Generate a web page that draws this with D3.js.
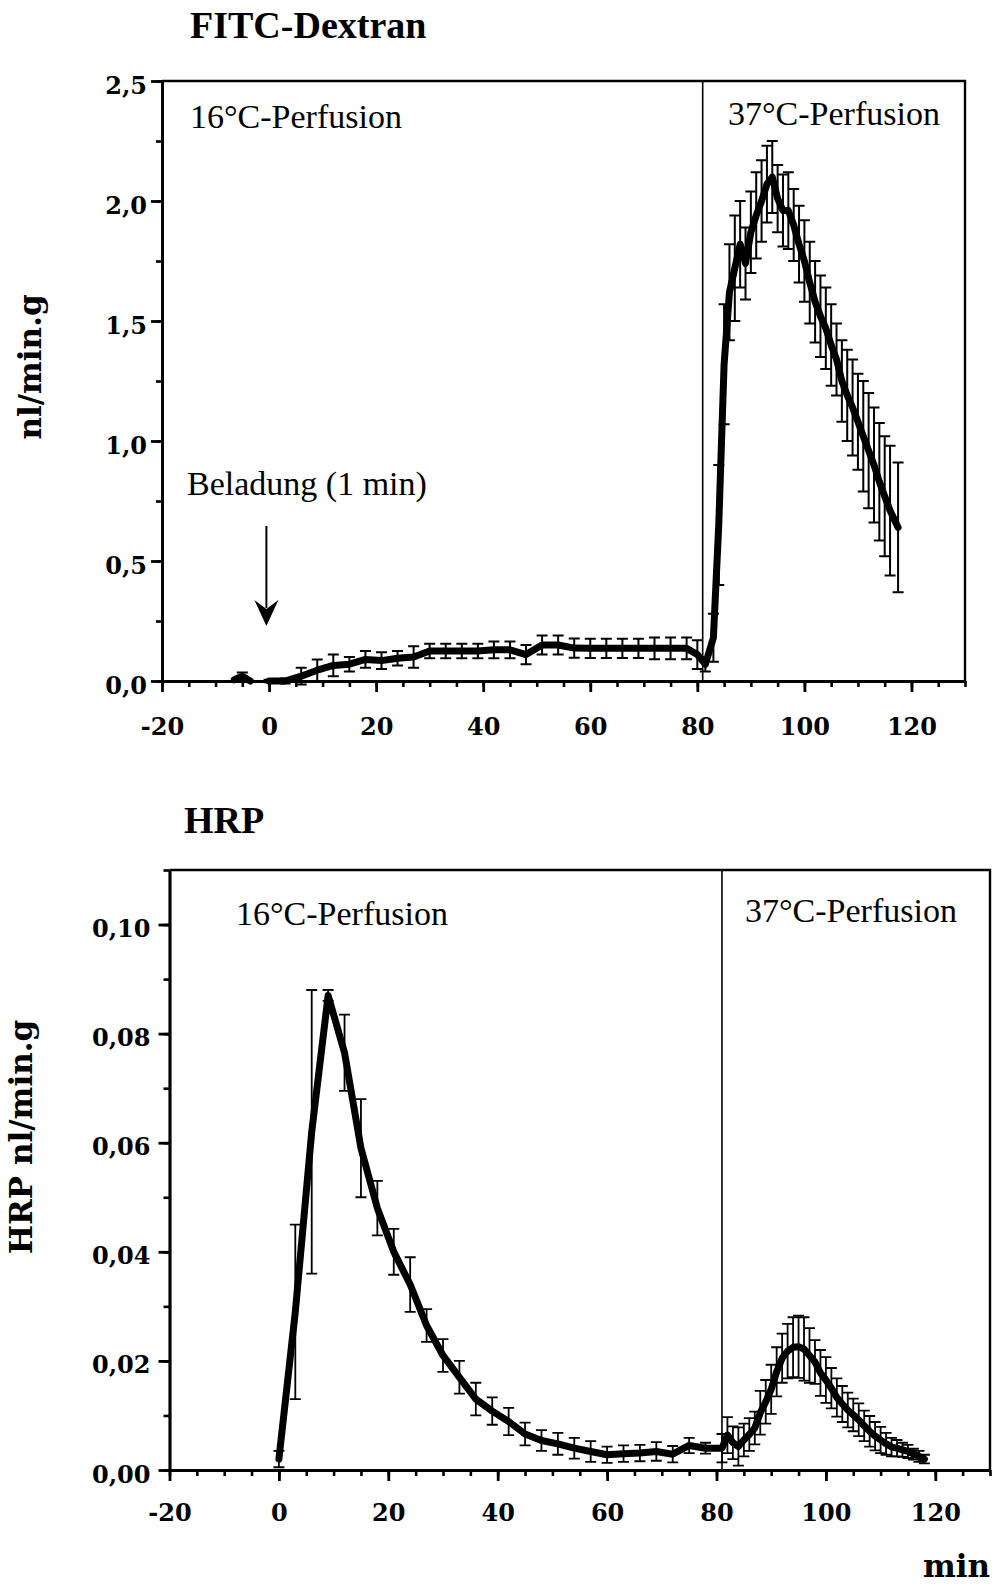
<!DOCTYPE html>
<html><head><meta charset="utf-8">
<script src="https://cdn.jsdelivr.net/npm/d3@7"></script>
<style>
body{margin:0;background:#fff;}
svg{display:block;}
</style></head><body>
<svg id="chart" width="994" height="1587"></svg>
<script>
// ---------- DATA ----------
// FITC-Dextran (null = gap in the curve)
const fitcTime = [-6.5,-5,-3.5,-2,
  0,3,6,9,12,15,18,21,24,27,
  30,33,36,39,42,45,48,51,54,57,
  60,63,66,69,72,75,78,
  80,81.5,83,84,
  85,86,87,88,89,90,91,92,93,94,
  95,96,97,98,99,100,101,102,103,104,
  105,106,107,108,109,110,111,112,113,114,
  115,116,117.5];
const fitcMean = [0.005,0.02,0.0,null,
  0.0,0.0,0.02,0.045,0.065,0.07,0.09,0.085,0.095,0.10,
  0.125,0.125,0.125,0.125,0.13,0.13,0.11,0.15,0.15,0.137,
  0.136,0.136,0.136,0.136,0.136,0.136,0.136,
  0.11,0.07,0.18,0.65,
  1.32,1.62,1.72,1.82,1.74,1.87,1.94,2.0,2.07,2.10,
  2.01,1.96,1.96,1.90,1.82,1.75,1.66,1.58,1.52,1.47,
  1.40,1.34,1.25,1.19,1.14,1.08,1.02,0.96,0.90,0.83,
  0.77,0.71,0.64];
const fitcErr = [0,0.015,0,null,
  0.005,0.01,0.035,0.045,0.045,0.03,0.035,0.035,0.03,0.045,
  0.03,0.03,0.03,0.03,0.035,0.035,0.04,0.04,0.04,0.04,
  0.04,0.04,0.04,0.04,0.045,0.045,0.045,
  0.06,0.03,0.1,0.25,
  0.25,0.2,0.22,0.18,0.15,0.17,0.18,0.17,0.16,0.15,
  0.14,0.15,0.16,0.15,0.16,0.17,0.17,0.17,0.17,0.17,
  0.17,0.15,0.17,0.19,0.2,0.2,0.23,0.24,0.24,0.245,
  0.25,0.27,0.27];

// HRP
const hrpTime = [0,3,6,9,12,15,18,21,24,27,
  30,33,36,39,42,45,48,51,54,57,
  60,63,66,69,72,75,78,81,
  82,83,84,85,86,87,88,89,90,91,
  92,93,94,95,96,97,98,99,100,101,
  102,103,104,105,106,107,108,109,110,111,
  112,113,114,115,116,117,118];
const hrpMean = [0.002,0.029,0.062,0.087,0.0765,0.059,0.048,0.040,0.034,0.0265,
  0.021,0.017,0.013,0.0108,0.0089,0.0066,0.0054,0.0048,0.004,0.0034,
  0.0028,0.003,0.0031,0.0034,0.0029,0.0045,0.004,0.004,
  0.0064,0.005,0.0043,0.0055,0.0065,0.0077,0.0105,0.0125,0.0148,0.018,
  0.0205,0.0218,0.0225,0.0226,0.0222,0.021,0.0198,0.0178,0.0165,0.015,
  0.0133,0.0121,0.011,0.0101,0.0092,0.0081,0.0071,0.0062,0.0055,0.0048,
  0.0042,0.004,0.0037,0.0034,0.0029,0.0025,0.002];
const hrpErr = [0.0015,0.016,0.026,0.001,0.007,0.009,0.005,0.0042,0.005,0.003,
  0.003,0.003,0.003,0.0025,0.0025,0.0021,0.0019,0.002,0.0019,0.0019,
  0.0015,0.0015,0.0015,0.0017,0.0015,0.0014,0.001,0.0026,
  0.0033,0.003,0.0035,0.003,0.003,0.003,0.004,0.004,0.0045,0.0045,
  0.0045,0.005,0.0055,0.0057,0.0058,0.005,0.004,0.0042,0.0042,0.0037,
  0.0035,0.0033,0.0032,0.003,0.003,0.0028,0.0028,0.0026,0.0024,0.002,
  0.0017,0.0015,0.0013,0.0012,0.001,0.001,0.0008];

const xTicks = [-20,0,20,40,60,80,100,120];
const xLabels = ["-20","0","20","40","60","80","100","120"];
const fitcYTicks = [0,0.5,1,1.5,2,2.5];
const fitcYLabels = ["0,0","0,5","1,0","1,5","2,0","2,5"];
const hrpYTicks = [0,0.02,0.04,0.06,0.08,0.10];
const hrpYLabels = ["0,00","0,02","0,04","0,06","0,08","0,10"];
const phaseSwitch = 81;
const loadingTime = -0.5;

// ---------- DRAW ----------
const svg = d3.select("#chart");
const TICKFONT = "'DejaVu Serif', serif";
const TITLEFONT = "'Liberation Serif', 'Times New Roman', serif";

function panel(o) {
  const g = svg.append("g");
  const x = d3.scaleLinear().domain([-20, 130]).range([o.x0, o.x1]);
  const y = d3.scaleLinear().domain([0, o.yMax]).range([o.y1, o.y0]);

  g.append("path")
    .attr("d", `M${x(-20)},${y(o.yMax)}H${x(130)}V${y(0)}`)
    .attr("fill", "none").attr("stroke", "#000").attr("stroke-width", 2.4);
  g.append("line")
    .attr("x1", x(phaseSwitch)).attr("x2", x(phaseSwitch))
    .attr("y1", y(o.yMax)).attr("y2", y(0))
    .attr("stroke", "#000").attr("stroke-width", 1.6);

  const xMinor = d3.range(-20, 131, 5);
  const yMinor = d3.range(0, o.yMax + o.yMinorStep / 2, o.yMinorStep);
  g.append("g").attr("transform", `translate(0,${y(0)})`)
    .call(d3.axisBottom(x).tickValues(xMinor).tickSize(6).tickSizeOuter(0).tickFormat(""))
    .call(s => s.selectAll("line,path").attr("stroke-width", 2.6));
  g.append("g").attr("transform", `translate(${x(-20)},0)`)
    .call(d3.axisLeft(y).tickValues(yMinor).tickSize(6).tickSizeOuter(0).tickFormat(""))
    .call(s => s.selectAll("line,path").attr("stroke-width", 2.6));

  const xa = g.append("g").attr("transform", `translate(0,${y(0)})`)
    .call(d3.axisBottom(x).tickValues(xTicks).tickSize(11).tickSizeOuter(0)
      .tickFormat((d, i) => xLabels[i]));
  xa.selectAll("line,path").attr("stroke-width", 2.8);
  xa.selectAll("text").attr("dy", null).attr("y", o.xLabelOffset)
    .style("font-family", TICKFONT).style("font-weight", "bold").style("font-size", "24px");

  const ya = g.append("g").attr("transform", `translate(${x(-20)},0)`)
    .call(d3.axisLeft(y).tickValues(o.yTicks).tickSize(11).tickPadding(o.yPad).tickSizeOuter(0)
      .tickFormat((d, i) => o.yLabels[i]));
  ya.selectAll("line,path").attr("stroke-width", 2.8);
  ya.selectAll("text").attr("dy", o.yLabelDy)
    .style("font-family", TICKFONT).style("font-weight", "bold").style("font-size", "24px");

  const data = o.time.map((t, i) => ({ t, v: o.mean[i], e: o.err[i] }));
  const eb = g.append("g").attr("stroke", "#000").attr("stroke-width", o.ebWidth).attr("fill", "none");
  data.filter(d => d.v != null && d.e > 0).forEach(d => {
    const cx = x(d.t), yt = y(d.v + d.e), yb = y(d.v - d.e);
    eb.append("path").attr("d",
      `M${cx},${yt}V${yb}M${cx - 5.5},${yt}H${cx + 5.5}M${cx - 5.5},${yb}H${cx + 5.5}`);
  });
  const line = d3.line().defined(d => d.v != null).x(d => x(d.t)).y(d => y(d.v));
  g.append("path").datum(data).attr("d", line)
    .attr("fill", "none").attr("stroke", "#000").attr("stroke-width", 7)
    .attr("stroke-linejoin", "round").attr("stroke-linecap", "round");

  return { x, y, g };
}

const topPanel = panel({
  x0: 162, x1: 965, y0: 81, y1: 681, yMax: 2.5, yMinorStep: 0.25,
  yTicks: fitcYTicks, yLabels: fitcYLabels, yPad: 4, yLabelDy: "0.5em",
  xLabelOffset: 54, time: fitcTime, mean: fitcMean, err: fitcErr, ebWidth: 2
});
const botPanel = panel({
  x0: 169.5, x1: 990, y0: 870, y1: 1470, yMax: 0.11, yMinorStep: 0.01,
  yTicks: hrpYTicks, yLabels: hrpYLabels, yPad: 8, yLabelDy: "0.5em",
  xLabelOffset: 51, time: hrpTime, mean: hrpMean, err: hrpErr, ebWidth: 1.8
});

function txt(x, y, s, size, font, weight, rot) {
  const t = svg.append("text").attr("x", x).attr("y", y).text(s)
    .style("font-family", font).style("font-size", size + "px")
    .style("font-weight", weight || "normal").attr("fill", "#000");
  if (rot) t.attr("transform", `rotate(-90,${x},${y})`).attr("text-anchor", "middle");
  return t;
}

txt(190, 38, "FITC-Dextran", 38, TITLEFONT, "bold");
txt(184, 833, "HRP", 38, TITLEFONT, "bold");
txt(190, 128, "16°C-Perfusion", 34, TITLEFONT);
txt(728, 125, "37°C-Perfusion", 34, TITLEFONT);
txt(187, 495, "Beladung (1 min)", 34, TITLEFONT);
txt(236, 925, "16°C-Perfusion", 34, TITLEFONT);
txt(745, 922, "37°C-Perfusion", 34, TITLEFONT);
txt(41, 367, "nl/min.g", 31, TICKFONT, "bold", true);
txt(32, 1137, "HRP nl/min.g", 31, TICKFONT, "bold", true);
txt(923, 1577, "min", 31, TICKFONT, "bold");

const ax = topPanel.x(loadingTime);
svg.append("line").attr("x1", ax).attr("x2", ax).attr("y1", 526).attr("y2", 608)
  .attr("stroke", "#000").attr("stroke-width", 2);
svg.append("path")
  .attr("d", `M${ax - 12},${600}L${ax},${626}L${ax + 12},${600}L${ax},${609}Z`)
  .attr("fill", "#000");
</script>
</body></html>
